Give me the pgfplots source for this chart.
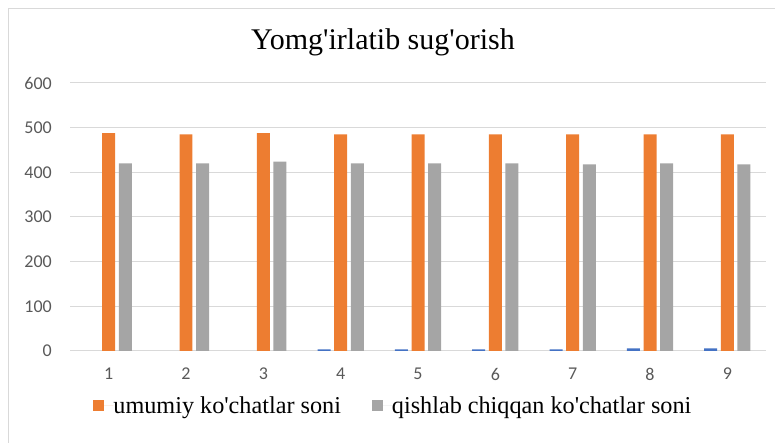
\documentclass[border=0pt]{standalone}
\usepackage{pgfplots}
\pgfplotsset{compat=1.18}
\usepackage{fontspec}
\setmainfont{Liberation Serif}
\newfontfamily\calibri{Carlito}
\definecolor{xorange}{HTML}{ED7D31}
\definecolor{xgray}{HTML}{A5A5A5}
\definecolor{xblue}{HTML}{4472C4}
\definecolor{xgrid}{HTML}{D9D9D9}
\definecolor{xtick}{HTML}{595959}
\begin{document}
\begin{tikzpicture}[x=1pt,y=1pt]
\path[use as bounding box] (0,0) rectangle (775,443);
\draw[xgrid, line width=1pt] (8,0) -- (8,434) -- (775,434);
\node[anchor=base, inner sep=0pt, font=\fontsize{30}{34}\selectfont] at (383,393.7) {Yomg\textquotesingle irlatib sug\textquotesingle orish};
\begin{axis}[
  at={(70pt,92pt)}, anchor=south west,
  scale only axis, width=696pt, height=268pt,
  xmin=0.5, xmax=9.5, ymin=0, ymax=600,
  xtick={1,...,9}, ytick={0,100,...,600},
  major tick length=0pt,
  axis line style={draw=none},
  ymajorgrids, grid style={xgrid, line width=1pt},
  tick label style={font=\calibri\fontsize{18}{20}\selectfont, text=xtick},
  /pgf/number format/assume math mode=true,
  yticklabel style={inner sep=0pt, anchor=east, xshift=-18pt},
  xticklabel style={inner sep=0pt, anchor=center, yshift=-23pt},
  legend columns=2,
  legend style={draw=none, fill=none, inner sep=0pt, at={(0.0334,-0.205)}, anchor=west,
    font=\fontsize{24.2}{28}\selectfont,
    nodes={inner sep=0pt},
    /tikz/every even column/.append style={column sep=31pt}},
  legend cell align=left,
  legend image code/.code={\fill[#1] (0pt,-5.5pt) rectangle (11pt,5.5pt); \path (0pt,0pt) -- (20pt,0pt);},
]
\addplot[ybar, bar width=0.168, bar shift=-0.215, fill=xblue, draw=none, forget plot]
  coordinates {(4,3.5) (5,3.5) (6,3.5) (7,3.5) (8,6) (9,6)};
\addplot[ybar, bar width=0.168, bar shift=0, fill=xorange, draw=none]
  coordinates {(1,488) (2,485) (3,488) (4,485) (5,485) (6,485) (7,485) (8,485) (9,485)};
\addlegendentry{umumiy ko\textquotesingle chatlar soni}
\addplot[ybar, bar width=0.168, bar shift=0.215, fill=xgray, draw=none]
  coordinates {(1,420) (2,420) (3,424) (4,420) (5,420) (6,420) (7,418) (8,420) (9,418)};
\addlegendentry{qishlab chiqqan ko\textquotesingle chatlar soni}
\end{axis}
\end{tikzpicture}
\end{document}
